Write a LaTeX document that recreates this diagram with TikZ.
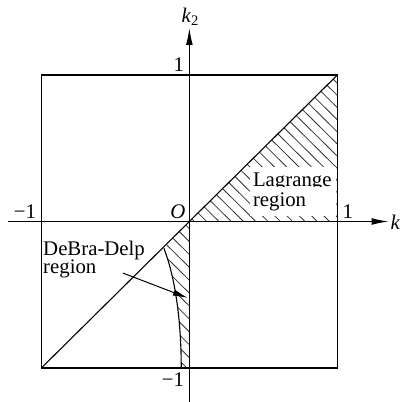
\documentclass[tikz,border=0pt]{standalone}
\usepackage{fontspec}
\setmainfont{Liberation Serif}
\usetikzlibrary{arrows.meta}

\begin{document}
\begin{tikzpicture}[x=74pt, y=73.25pt, font=\fontsize{10.4}{10}\selectfont,
    frame/.style={line width=0.55pt},
    hatch/.style={line width=0.4pt, black!80},
    axisarrow/.style={-{Latex[length=8.5pt,width=3.4pt]}, line width=0.55pt},
    pointer/.style={-{Latex[length=7.5pt,width=3.2pt]}, line width=0.5pt},
    lbl/.style={inner sep=0pt},
    txt/.style={inner sep=0pt, anchor=base west},
    blank/.style={fill=white, anchor=base west, inner ysep=0pt, inner xsep=1.5pt,
        text width=40pt, align=left}]
    \useasboundingbox (-1.2795,-1.2321) rectangle (1.4310,1.5119);

    \coordinate (O) at (0,0);
    \coordinate (sw) at (-1,-1);
    \coordinate (ne) at (1,1);
    \coordinate (se) at (1,-1);
    \coordinate (cusp) at (-0.172,-0.183);
    \coordinate (foot) at (-0.055,-1);

    % hatching, Lagrange region
    \begin{scope}
        \clip (O) -- (1,0) -- (ne) -- cycle;
        \foreach \s in {0.034,0.117,...,2.1}
            \draw[hatch] (\s+0.1,-0.1) -- (\s-1.1,1.1);
    \end{scope}
    % hatching, DeBra-Delp region
    \begin{scope}
        \clip (O) -- (cusp) .. controls (-0.115,-0.33) and (-0.055,-0.6) .. (foot) -- (0,-1) -- cycle;
        \foreach \c in {0.049,0.137,...,1.15}
            \draw[hatch] (0.1,-\c-0.1) -- (-0.3,-\c+0.3);
    \end{scope}

    \draw[frame] (sw) rectangle (ne);
    \draw[frame] (sw) -- (ne);
    \draw[frame] (cusp) .. controls (-0.115,-0.33) and (-0.055,-0.6) .. (foot);

    \coordinate (xleft) at (-1.226,0);
    \coordinate (xright) at (1.346,0);
    \coordinate (ybottom) at (0,-1.235);
    \coordinate (ytop) at (0,1.321);
    \draw[axisarrow] (xleft) -- (xright);
    \draw[axisarrow] (ybottom) -- (ytop);

    \node[lbl] (kx) at (1.392,-0.003) {\textit{k}};
    \node[lbl] (ky) at (0.008,1.396) {\textit{k}\textsubscript{2}};
    \node[lbl] (one1) at (-0.071,1.068) {1};
    \node[lbl] (onex) at (1.071,0.065) {1};
    \node[lbl] (mone1) at (-1.111,0.065) {−1};
    \node[lbl] (monex) at (-0.111,-1.082) {−1};
    \node[lbl] (orig) at (-0.078,0.065) {\textit{O}};

    % region labels, one node per line
    \node[blank, text height=9.8pt, text depth=0.2pt] (lag1) at (0.407,0.2375) {Lagrange};
    \node[blank, text height=9.8pt, text depth=5pt] (lag2) at (0.407,0.1024) {region};
    \node[txt] (deb1) at (-0.99,-0.232) {DeBra-Delp};
    \node[txt] (deb2) at (-0.99,-0.358) {region};

    \coordinate (arrstart) at (-0.449,-0.352);
    \coordinate (arrtip) at (-0.01,-0.522);
    \draw[pointer] (arrstart) -- (arrtip);
\end{tikzpicture}
\end{document}
